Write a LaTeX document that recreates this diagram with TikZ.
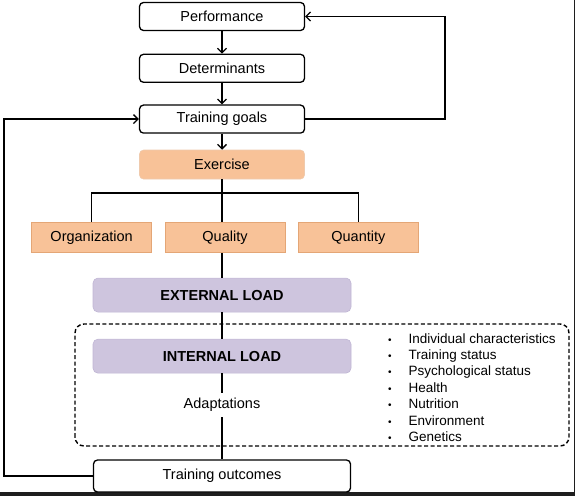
\documentclass[tikz,border=0pt]{standalone}
\usepackage{fontspec}
\setmainfont{Liberation Sans}
\definecolor{peach}{RGB}{248, 194, 152}
\definecolor{peachline}{RGB}{228, 166, 118}
\definecolor{lilac}{RGB}{206, 197, 222}
\definecolor{lilacline}{RGB}{192, 182, 212}
\definecolor{edgedark}{RGB}{30, 30, 30}
\usetikzlibrary{arrows.meta, positioning}
\tikzset{
	stage/.style={rectangle, rounded corners=4pt, draw=black, fill=white, line width=1.3pt, align=center, minimum width=165pt, minimum height=28pt, inner sep=0pt, font=\fontsize{14.5}{17}\selectfont},
	exbox/.style={rectangle, rounded corners=4pt, draw=peachline!60, fill=peach, line width=0.6pt, align=center, minimum width=165pt, minimum height=29pt, inner sep=0pt, font=\fontsize{14.5}{17}\selectfont},
	aspect/.style={rectangle, draw=peachline, fill=peach, line width=0.9pt, align=center, minimum width=120pt, minimum height=30pt, inner sep=0pt, font=\fontsize{14.5}{17}\selectfont},
	load/.style={rectangle, rounded corners=5pt, draw=lilacline, fill=lilac, line width=0.6pt, align=center, minimum width=258pt, minimum height=34pt, inner sep=0pt, font=\fontsize{14.5}{17}\selectfont\bfseries},
	context/.style={dashed, dash pattern=on 4pt off 2.5pt, rounded corners=9pt, line width=1.4pt},
	arrow/.style={-{Straight Barb[length=4.5pt, width=9pt]}, line width=1.3pt},
	link/.style={line width=1.3pt},
}
\begin{document}
\begin{tikzpicture}[x=1pt, y=1pt]
		\useasboundingbox (0,0) rectangle (575,496);
		\fill[edgedark] (0,0) rectangle (575,4);
		\fill[edgedark] (573.5,0) rectangle (575,496);
		\draw[context] (75,50) rectangle (569,172);
		\node[stage] (performance) at (222,479.5) {Performance};
		\node[stage, below=22.5pt of performance] (determinants) {Determinants};
		\node[stage, below=21.5pt of determinants] (goals) {Training goals};
		\node[exbox, below=16pt of goals] (exercise) {Exercise};
		\node[aspect, below=42.5pt of exercise, xshift=3pt] (quality) {Quality};
		\node[aspect, left=12.5pt of quality] (organization) {Organization};
		\node[aspect, right=12.5pt of quality] (quantity) {Quantity};
		\node[load, below=25pt of quality, xshift=-3pt] (external) {EXTERNAL LOAD};
		\node[load, below=26.5pt of external] (internal) {INTERNAL LOAD};
		\node[below=19.5pt of internal, minimum height=24pt, inner sep=0pt, font=\fontsize{14.5}{17}\selectfont] (adaptations) {Adaptations};
		\node[stage, below=42pt of adaptations, minimum width=257pt, minimum height=32pt] (outcomes) {Training outcomes};
		\node[anchor=north west, inner sep=0pt, font=\fontsize{13.5}{16.4}\selectfont] (factors) at (388,164.5) {%
			\begin{tabular}{@{}l@{\hspace{17pt}}l@{}}
				{\fontsize{10}{10}\selectfont\textbullet} & Individual\ characteristics\\
				{\fontsize{10}{10}\selectfont\textbullet} & Training status\\
				{\fontsize{10}{10}\selectfont\textbullet} & Psychological status\\
				{\fontsize{10}{10}\selectfont\textbullet} & Health\\
				{\fontsize{10}{10}\selectfont\textbullet} & Nutrition\\
				{\fontsize{10}{10}\selectfont\textbullet} & Environment\\
				{\fontsize{10}{10}\selectfont\textbullet} & Genetics
			\end{tabular}};
		\coordinate (bar) at (0,303);
		\coordinate (leftrail) at (4,0);
		\coordinate (rightrail) at (445,0);
		\draw[arrow] (performance) -- (determinants);
		\draw[arrow] (determinants) -- (goals);
		\draw[arrow] (goals) -- (exercise);
		\draw[arrow] (goals.east) -- (goals.east -| rightrail) |- (performance.east);
		\draw[arrow] (outcomes.west) -- (outcomes.west -| leftrail) |- (goals.west);
		\draw[link] (exercise.south) -- (exercise.south |- quality.north);
		\draw[link] (organization.north) -- (organization.north |- bar) -- (quantity.north |- bar) -- (quantity.north);
		\draw[link] (exercise.south |- quality.south) -- (external);
		\draw[link] (external) -- (internal);
		\draw[link] (internal) -- (adaptations);
		\draw[link] (adaptations) -- (outcomes);
	\end{tikzpicture}
\end{document}
